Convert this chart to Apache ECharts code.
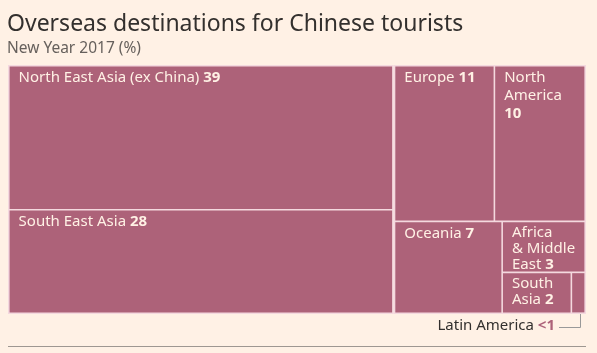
<!DOCTYPE html>
<html>
<head>
<meta charset="utf-8">
<script src="https://cdn.jsdelivr.net/npm/echarts@6/dist/echarts.min.js"></script>
<style>
  html, body { margin: 0; padding: 0; background: #fff1e5; }
  #chart { width: 597px; height: 353px; }
</style>
</head>
<body>
<div id="chart"></div>
<script>
// share of overseas trips, New Year 2017 (%)
const regions = ['North East Asia (ex China)', 'South East Asia', 'Europe', 'North America',
  'Oceania', 'Africa & Middle East', 'South Asia', 'Latin America'];
const shares = [39, 28, 11, 10, 7, 3, 2, 0.4];
const shareLabels = ['39', '28', '11', '10', '7', '3', '2', '<1'];

// how the boxes are grouped (indices into regions)
const leftGroup = [0, 1];
const rightGroup = [[2, 3], [4, [5, [6, 7]]]];

// label text with the line breaks used in the small boxes
const wrapped = {
  'North America': 'North\nAmerica\n',
  'Africa & Middle East': 'Africa\n& Middle\nEast ',
  'South Asia': 'South\nAsia '
};
// small boxes get tighter line spacing so the text is not cut
const tight = ['Africa & Middle East', 'South Asia'];

const FONT = 'Noto Sans';
const BOX = { left: 8, top: 65, width: 578, height: 249 };
const FILL = '#ad6279';
const LINE = '#f4d9df';
const TXT = '#fff1e5';

const sumOf = g => Array.isArray(g) ? g.reduce((s, x) => s + sumOf(x), 0) : shares[g];

function build(g) {
  if (!Array.isArray(g)) {
    return {
      name: regions[g],
      value: shares[g],
      itemStyle: { color: FILL },
      label: { show: shareLabels[g] !== '<1' }
    };
  }
  return {
    name: '',
    value: sumOf(g),
    itemStyle: { borderWidth: 0, color: FILL },
    children: g.map(build)
  };
}

const total = sumOf(leftGroup) + sumOf(rightGroup);
const leftW = BOX.width * sumOf(leftGroup) / total;

const chart = echarts.init(document.getElementById('chart'));

const baseSeries = {
  type: 'treemap',
  top: BOX.top,
  height: BOX.height,
  roam: false,
  nodeClick: false,
  silent: true,
  breadcrumb: { show: false },
  itemStyle: { borderColor: LINE, borderWidth: 0.8, gapWidth: 0 },
  label: {
    show: true,
    position: 'insideTopLeft',
    padding: [0, 9],
    offset: [0, 2.5],
    formatter: p => {
      const i = regions.indexOf(p.name);
      const txt = wrapped[p.name] || p.name + ' ';
      const k = tight.indexOf(p.name) >= 0 ? 't' : '';
      return '{n' + k + '|' + txt + '}{v' + k + '|' + shareLabels[i] + '}';
    },
    rich: {
      n: { color: TXT, fontFamily: FONT, fontSize: 15, lineHeight: 18 },
      v: { color: TXT, fontFamily: FONT, fontSize: 15, lineHeight: 18, fontWeight: 'bold' },
      nt: { color: TXT, fontFamily: FONT, fontSize: 15, lineHeight: 16 },
      vt: { color: TXT, fontFamily: FONT, fontSize: 15, lineHeight: 16, fontWeight: 'bold' }
    }
  }
};

const option = {
  backgroundColor: '#fff1e5',
  title: {
    text: 'Overseas destinations for Chinese tourists',
    subtext: 'New Year 2017 (%)',
    left: 7,
    top: 13,
    padding: 0,
    itemGap: 5,
    textStyle: { fontFamily: FONT, fontSize: 23, fontWeight: 'normal', color: '#33302e' },
    subtextStyle: { fontFamily: FONT, fontSize: 15.5, color: '#66605c' }
  },
  series: [
    Object.assign({}, baseSeries, {
      left: BOX.left,
      width: leftW,
      squareRatio: 3,
      data: leftGroup.map(build)
    }),
    Object.assign({}, baseSeries, {
      left: BOX.left + leftW,
      width: BOX.width - leftW,
      squareRatio: 1,
      data: rightGroup.map(build)
    })
  ],
  graphic: [
    {
      type: 'text',
      right: 597 - 555,
      top: 318,
      style: {
        text: '{a|Latin America }{b|<1}',
        rich: {
          a: { fontFamily: FONT, fontSize: 15, fill: '#33302e' },
          b: { fontFamily: FONT, fontSize: 15, fill: FILL, fontWeight: 'bold' }
        }
      }
    },
    {
      type: 'polyline',
      shape: { points: [[559, 327.5], [580.5, 327.5], [580.5, 314]] },
      style: { stroke: '#999', lineWidth: 1, fill: null }
    },
    {
      type: 'line',
      shape: { x1: 8, y1: 346.5, x2: 586, y2: 346.5 },
      style: { stroke: '#9e9791', lineWidth: 1 }
    }
  ]
};

chart.setOption(option);
</script>
</body>
</html>
